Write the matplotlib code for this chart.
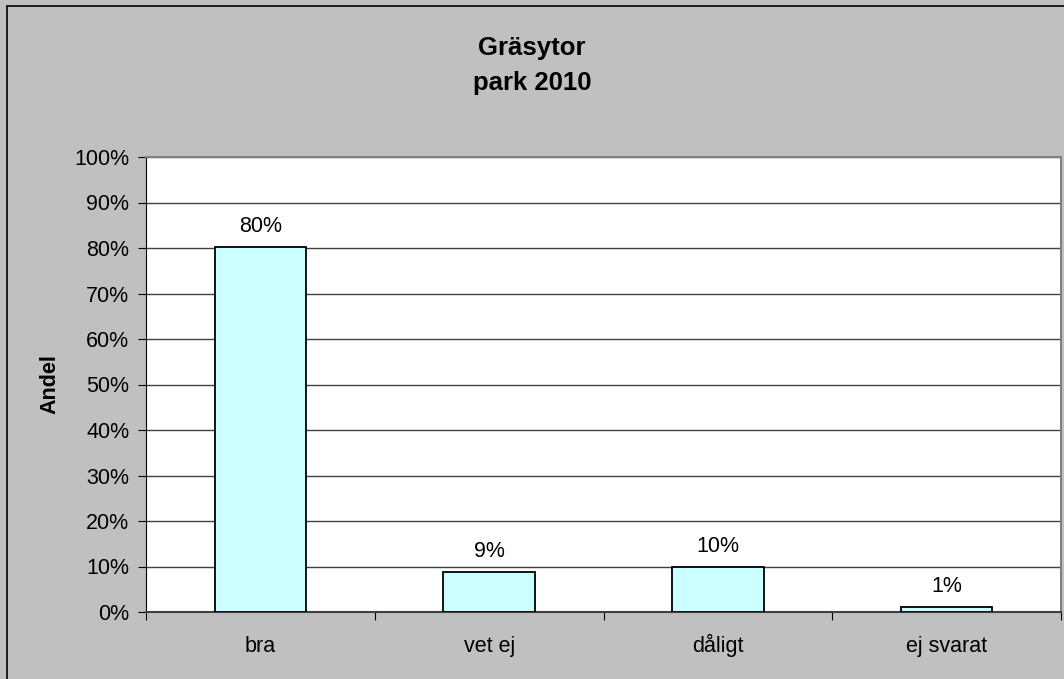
import matplotlib.pyplot as plt
from matplotlib.patches import Rectangle
from matplotlib.ticker import PercentFormatter

plt.rcParams['font.family'] = ['Liberation Sans', 'DejaVu Sans']

# data
categories = ['bra', 'vet ej', 'dåligt', 'ej svarat']
values = [0.803, 0.088, 0.098, 0.011]
labels = ['80%', '9%', '10%', '1%']

fig = plt.figure(figsize=(10.64, 6.79), dpi=100, facecolor='#C0C0C0')
ax = fig.add_axes([146 / 1064, 1 - 612 / 679, (1061 - 146) / 1064, (612 - 157) / 679])
ax.set_facecolor('white')

# outer frame of the chart (top and left edges visible)
fig.patches.append(Rectangle((7 / 1064, -0.05), 1.1, 1 - 6 / 679 + 0.05,
                             transform=fig.transFigure, fill=False,
                             edgecolor='black', linewidth=1.2, zorder=0))

x = range(len(categories))
ax.bar(x, values, width=0.4, color='#CCFFFF', edgecolor='black', linewidth=1.3, zorder=3)
for i, v in enumerate(values):
    ax.text(i, v + 0.022, labels[i], ha='center', va='bottom', fontsize=15.5)

ax.set_xlim(-0.5, len(categories) - 0.5)
ax.set_ylim(0, 1)
ax.set_yticks([i / 10 for i in range(11)])
ax.yaxis.set_major_formatter(PercentFormatter(1.0, decimals=0))
ax.set_xticks([i + 0.5 for i in range(-1, len(categories))], minor=False)
ax.set_xticklabels([])
ax.set_xticks(list(x), minor=True)
ax.set_xticklabels(categories, minor=True)
ax.tick_params(axis='x', which='minor', length=0, pad=28.5, labelsize=15.5)
for lbl in ax.get_xticklabels(minor=True):
    lbl.set_verticalalignment('baseline')
ax.tick_params(axis='x', which='major', length=6, direction='out', color='black')
ax.tick_params(axis='y', length=6, direction='out', labelsize=15.5, pad=6)

ax.grid(axis='y', color='#404040', linewidth=1, zorder=0)
ax.set_axisbelow(True)
for s in ['top', 'right']:
    ax.spines[s].set_color('#808080')
    ax.spines[s].set_linewidth(1.5)
ax.spines['left'].set_color('black')
ax.spines['bottom'].set_color('#404040')
ax.spines['bottom'].set_linewidth(1.5)

ax.set_ylabel('Andel', fontsize=15.5, fontweight='bold', labelpad=10)
fig.text(0.5, 1 - 48 / 679, 'Gräsytor', ha='center', va='center', fontsize=18.5, fontweight='bold')
fig.text(0.5, 1 - 83 / 679, 'park 2010', ha='center', va='center', fontsize=18.5, fontweight='bold')

fig.savefig('out.png', dpi=100, facecolor=fig.get_facecolor())
